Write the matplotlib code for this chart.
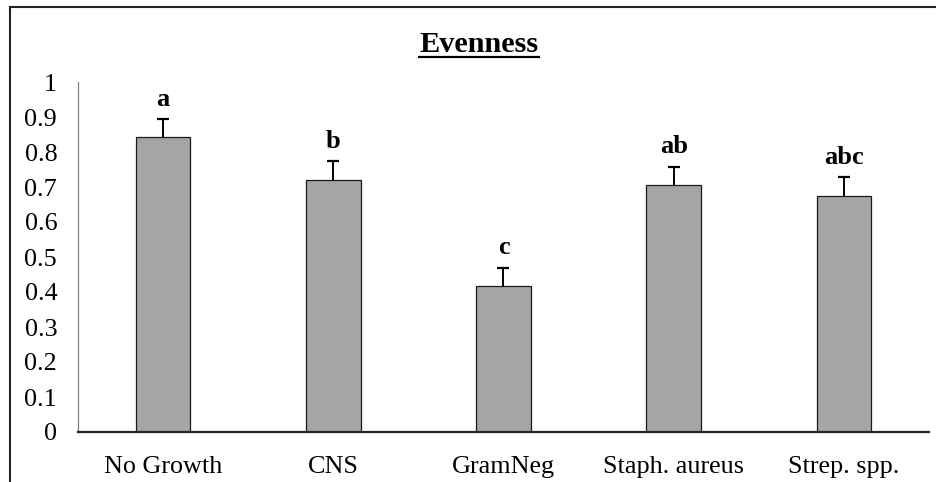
import matplotlib.pyplot as plt
from matplotlib.lines import Line2D

groups = ["No Growth", "CNS", "GramNeg", "Staph. aureus", "Strep. spp."]
evenness = [0.842, 0.720, 0.418, 0.706, 0.675]
sem = [0.052, 0.053, 0.052, 0.052, 0.054]
letters = ["a", "b", "c", "ab", "abc"]
y_ticks = [0, 0.1, 0.2, 0.3, 0.4, 0.5, 0.6, 0.7, 0.8, 0.9, 1]
y_labels = ["0", "0.1", "0.2", "0.3", "0.4", "0.5", "0.6", "0.7", "0.8", "0.9", "1"]

plt.rcParams["font.family"] = ["Liberation Serif", "DejaVu Serif"]

fig = plt.figure(figsize=(9.37, 4.82), dpi=100)
ax = fig.add_axes([78 / 937, 50 / 482, 851 / 937, 350 / 482])

x = list(range(len(groups)))
tops = [v + e for v, e in zip(evenness, sem)]
ax.bar(x, evenness, width=0.32, color="#A5A5A5", edgecolor="#1a1a1a", linewidth=0.9, zorder=2)
# upper half of the error bars only, with a cap on top
ax.vlines(x, evenness, tops, color="black", linewidth=1.4, zorder=3)
ax.plot(x, tops, linestyle="none", marker="_", markersize=9, markeredgewidth=1.6,
        color="black", zorder=3)

for i, (t, lab) in enumerate(zip(tops, letters)):
    ax.annotate(lab, xy=(i, t), xytext=(0, 6), textcoords="offset points",
                ha="center", va="bottom", fontsize=19, fontweight="bold")

ax.set_xlim(-0.5, len(groups) - 0.5)
ax.set_ylim(0, 1)
ax.set_xticks(x)
ax.set_xticklabels(groups, fontsize=18.8)
ax.set_yticks(y_ticks)
ax.set_yticklabels(y_labels, fontsize=18.8)
ax.tick_params(axis="x", length=0, pad=17)
ax.tick_params(axis="y", length=0, pad=15)

for side in ["top", "right"]:
    ax.spines[side].set_visible(False)
ax.spines["left"].set_color("#7f7f7f")
ax.spines["left"].set_linewidth(0.9)
ax.spines["bottom"].set_color("#262626")
ax.spines["bottom"].set_linewidth(1.6)

title = fig.text(479 / 937, 1 - 45 / 482, "Evenness", ha="center", va="center",
                 fontsize=21.8, fontweight="bold")
fig.canvas.draw()
bb = title.get_window_extent().transformed(fig.transFigure.inverted())
fig.add_artist(Line2D([bb.x0, bb.x1], [bb.y0 + 0.004, bb.y0 + 0.004], color="black",
                      linewidth=1.6, transform=fig.transFigure))

# outer frame (top and left edges visible in the crop)
fig.add_artist(Line2D([10 / 937, 1], [1 - 7 / 482, 1 - 7 / 482], color="#222222",
                      linewidth=1.5, transform=fig.transFigure))
fig.add_artist(Line2D([10 / 937, 10 / 937], [0, 1 - 7 / 482], color="#222222",
                      linewidth=1.5, transform=fig.transFigure))

fig.savefig("out.png", dpi=100)
